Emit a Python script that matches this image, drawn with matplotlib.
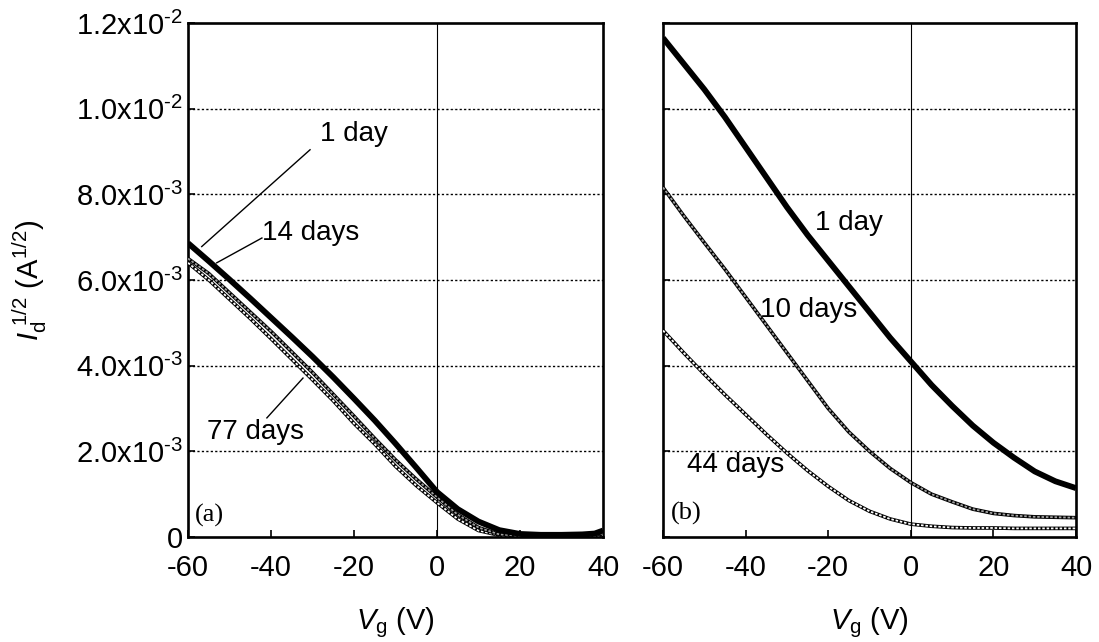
import matplotlib
matplotlib.use("Agg")
import matplotlib.pyplot as plt
import numpy as np

plt.rcParams['font.family'] = ['Liberation Sans', 'DejaVu Sans']
plt.rcParams['mathtext.fontset'] = 'custom'
plt.rcParams['mathtext.rm'] = 'Liberation Sans'
plt.rcParams['mathtext.it'] = 'Liberation Sans:italic'
plt.rcParams['mathtext.default'] = 'regular'
plt.rcParams['axes.unicode_minus'] = False

SCALE = 1e-3  # values below are in units of 1e-3 A^1/2

# ---- panel (a) ----
vg_a = [-60, -55, -50, -45, -40, -35, -30, -25, -20, -15, -10, -5, 0, 5, 10, 15, 20, 25, 30, 35, 38, 40]
day1_a = [6.86, 6.44, 6.01, 5.57, 5.12, 4.67, 4.21, 3.73, 3.23, 2.72, 2.18, 1.62, 1.05, 0.65, 0.36, 0.16, 0.07, 0.05, 0.05, 0.06, 0.08, 0.15]
day14_a = [6.50, 6.15, 5.70, 5.25, 4.80, 4.32, 3.84, 3.33, 2.82, 2.30, 1.80, 1.35, 0.93, 0.52, 0.22, 0.06, 0.03, 0.03, 0.03, 0.04, 0.05, 0.08]
day77_a = [6.40, 6.00, 5.55, 5.10, 4.63, 4.15, 3.67, 3.18, 2.65, 2.17, 1.65, 1.20, 0.80, 0.42, 0.15, 0.04, 0.03, 0.03, 0.03, 0.03, 0.03, 0.05]

# ---- panel (b) ----
vg_b = [-60, -55, -50, -45, -40, -35, -30, -25, -20, -15, -10, -5, 0, 5, 10, 15, 20, 25, 30, 35, 40]
day1_b = [11.65, 11.05, 10.45, 9.80, 9.10, 8.40, 7.70, 7.05, 6.45, 5.85, 5.25, 4.65, 4.10, 3.55, 3.06, 2.60, 2.20, 1.85, 1.53, 1.30, 1.14]
day10_b = [8.16, 7.50, 6.87, 6.25, 5.60, 4.95, 4.30, 3.65, 3.00, 2.45, 2.00, 1.60, 1.27, 1.00, 0.82, 0.65, 0.55, 0.50, 0.47, 0.46, 0.45]
day44_b = [4.82, 4.30, 3.80, 3.32, 2.86, 2.40, 1.96, 1.55, 1.18, 0.85, 0.60, 0.42, 0.30, 0.25, 0.22, 0.21, 0.21, 0.20, 0.20, 0.20, 0.20]

xticks = [-60, -40, -20, 0, 20, 40]
yticks = [0, 2e-3, 4e-3, 6e-3, 8e-3, 1.0e-2, 1.2e-2]
ytick_labels = ['0', r'2.0x10$^{\text{-3}}$', r'4.0x10$^{\text{-3}}$', r'6.0x10$^{\text{-3}}$',
                r'8.0x10$^{\text{-3}}$', r'1.0x10$^{\text{-2}}$', r'1.2x10$^{\text{-2}}$']

fig = plt.figure(figsize=(10.99, 6.42), dpi=100)
axa = fig.add_axes([0.1711, 0.1636, 0.3776, 0.8006])
axb = fig.add_axes([0.6033, 0.1636, 0.3758, 0.8006])

TXT = 20


def filled(ax, x, y):
    ax.plot(x, np.array(y) * SCALE, color='k', lw=4.2, solid_capstyle='butt', zorder=5)


def marked(ax, x, y, face, z):
    yy = np.array(y) * SCALE
    ax.plot(x, yy, color='k', lw=2.6, solid_capstyle='butt', zorder=z)
    ax.plot(x, yy, color=face, lw=1.3, linestyle=(0, (1.4, 1.0)), dash_capstyle='butt', zorder=z + 0.1)


def style(ax):
    ax.set_xlim(-60, 40)
    ax.set_ylim(0, 0.012)
    ax.set_xticks(xticks)
    ax.set_yticks(yticks)
    for s in ax.spines.values():
        s.set_linewidth(1.9)
    ax.tick_params(direction='in', length=5, width=1.2, labelsize=21)
    ax.tick_params(axis='x', pad=12)
    ax.tick_params(axis='y', pad=3.5)
    for yv in yticks[1:-1]:
        ax.axhline(yv, color='k', lw=1.0, linestyle=(0, (1.6, 1.6)), zorder=1)
    ax.axvline(0, color='k', lw=0.8, zorder=1)
    ax.set_xlabel(r'$\mathit{V}_{\mathrm{g}}$ (V)', fontsize=21)
    ax.xaxis.set_label_coords(0.5, -0.133)


style(axa)
style(axb)

axa.set_yticklabels(ytick_labels)
axb.set_yticklabels([])
axa.set_ylabel(r'$\mathit{I}_{\mathrm{d}}^{\ 1/2}$ (A$^{1/2}$)', fontsize=21)
axa.yaxis.set_label_coords(-0.335, 0.5)

# panel (a) curves
marked(axa, vg_a, day77_a, 'white', 3)
marked(axa, vg_a, day14_a, '#a0a0a0', 3.5)
filled(axa, vg_a, day1_a)

# panel (a) labels with leader lines
lead = dict(color='k', lw=1.0, zorder=6)
axa.text(-28.2, 9.4e-3, '1 day', fontsize=TXT, ha='left', va='center')
axa.plot([-30.6, -56.7], [9.04e-3, 6.78e-3], **lead)
axa.text(-42.2, 7.1e-3, '14 days', fontsize=TXT, ha='left', va='center')
axa.plot([-42.2, -53.1], [6.98e-3, 6.40e-3], **lead)
axa.text(-55.4, 2.45e-3, '77 days', fontsize=TXT, ha='left', va='center')
axa.plot([-32.3, -41.0], [3.71e-3, 2.78e-3], **lead)
axa.text(-58.3, 0.5e-3, '(a)', fontsize=19, family='Liberation Serif', ha='left', va='center')

# panel (b) curves
marked(axb, vg_b, day44_b, 'white', 3)
marked(axb, vg_b, day10_b, '#a0a0a0', 3.5)
filled(axb, vg_b, day1_b)

axb.text(-23.2, 7.33e-3, '1 day', fontsize=TXT, ha='left', va='center')
axb.text(-36.5, 5.3e-3, '10 days', fontsize=TXT, ha='left', va='center')
axb.text(-54.3, 1.68e-3, '44 days', fontsize=TXT, ha='left', va='center')
axb.text(-58.1, 0.56e-3, '(b)', fontsize=19, family='Liberation Serif', ha='left', va='center')

fig.savefig('out.png', dpi=100)
